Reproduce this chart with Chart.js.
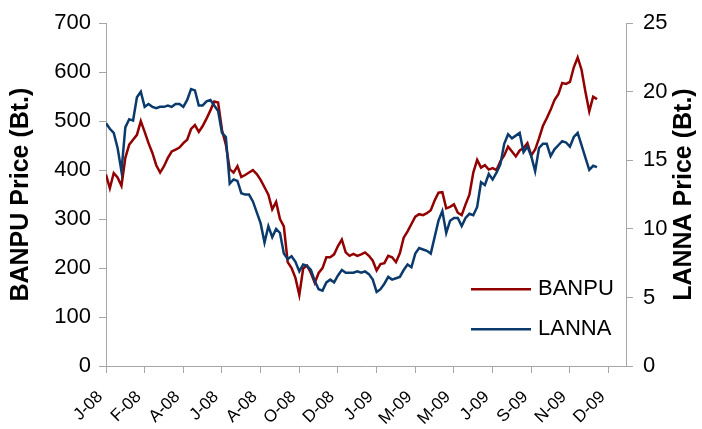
<!DOCTYPE html>
<html>
<head>
<meta charset="utf-8">
<script src="https://cdn.jsdelivr.net/npm/chart.js@4.4.0/dist/chart.umd.min.js"></script>
<style>
    html, body { margin: 0; padding: 0; background: #fff; }
    #wrap { width: 702px; height: 429px; }
</style>
</head>
<body>
<div id="wrap"><canvas id="priceChart" width="702" height="429"></canvas></div>
<script>
// ============================================================
// DATA (one point every ~4px, label every 10 points)
// ============================================================
const monthLabels = ['J-08', 'F-08', 'A-08', 'J-08', 'A-08', 'O-08', 'D-08',
                     'J-09', 'M-09', 'M-09', 'J-09', 'S-09', 'N-09', 'D-09'];

const banpu = [
    391, 363, 394, 385, 368, 425, 452, 462, 472, 500,
    478, 455, 435, 410, 395, 408, 425, 438, 442, 446,
    455, 462, 484, 492, 478, 490, 505, 522, 540, 538,
    482, 452, 402, 395, 408, 386, 390, 395, 400, 392,
    380, 365, 350, 320, 335, 300, 285, 212, 200, 180,
    145, 199, 205, 190, 170, 190, 200, 222, 222, 228,
    245, 258, 232, 225, 229, 225, 228, 232, 225, 215,
    195, 208, 210, 225, 222, 212, 230, 262, 275, 290,
    305, 310, 308, 312, 318, 338, 354, 355, 322, 325,
    330, 313, 308, 330, 350, 395, 421, 405, 410, 401,
    404, 400, 418, 430, 448, 438, 428, 440, 445, 455,
    430, 442, 465, 490, 506, 523, 543, 555, 578, 576,
    580, 610, 630, 605, 560, 520, 550, 545
];

const lanna = [
    17.7, 17.3, 17.0, 15.9, 14.2, 17.4, 18.0, 17.9, 19.6, 20.0,
    18.9, 19.1, 18.9, 18.8, 18.9, 18.9, 19.0, 18.9, 19.1, 19.1,
    18.9, 19.4, 20.2, 20.1, 19.0, 19.0, 19.3, 19.4, 19.0, 18.6,
    17.0, 16.7, 13.3, 13.6, 13.5, 12.6, 12.5, 12.5, 12.0, 11.2,
    10.4, 9.0, 10.2, 9.4, 10.0, 9.7, 8.2, 7.8, 8.0, 7.6,
    6.9, 7.4, 7.3, 7.0, 6.2, 5.6, 5.5, 6.1, 6.3, 6.1,
    6.6, 7.0, 6.8, 6.8, 6.8, 6.9, 6.8, 6.9, 6.7, 6.3,
    5.4, 5.6, 6.0, 6.5, 6.3, 6.4, 6.5, 7.0, 7.4, 7.2,
    8.2, 8.6, 8.5, 8.4, 8.2, 9.4, 10.6, 11.3, 9.7, 10.6,
    10.8, 10.8, 10.2, 10.8, 11.1, 11.0, 11.6, 13.4, 13.2, 14.0,
    13.6, 14.1, 14.7, 16.2, 16.9, 16.6, 16.8, 17.0, 15.6, 16.0,
    15.3, 14.2, 15.9, 16.2, 16.2, 15.3, 15.8, 16.1, 16.4, 16.3,
    16.0, 16.7, 17.0, 16.1, 15.2, 14.3, 14.6, 14.5
];

// ============================================================
// CHART
// ============================================================
const FONT = "'Liberation Sans', Arial, sans-serif";
const AXIS_GREY = '#a6a6a6';

// right title reads bottom-to-top like the left one, so draw it by hand
const rightTitle = {
    id: 'rightTitle',
    afterDraw(chart) {
        const s = chart.scales.y1;
        const area = chart.chartArea;
        const ctx = chart.ctx;
        ctx.save();
        ctx.translate(s.right - 18, (area.top + area.bottom) / 2);
        ctx.rotate(-Math.PI / 2);
        ctx.font = 'bold 25px ' + FONT;
        ctx.fillStyle = '#000';
        ctx.textAlign = 'center';
        ctx.textBaseline = 'middle';
        ctx.fillText('LANNA Price (Bt.)', 0, 0);
        ctx.restore();
    }
};

// legend sits inside the plot, lower right
const insideLegend = {
    id: 'insideLegend',
    afterDraw(chart) {
        const area = chart.chartArea;
        const ctx = chart.ctx;
        let y = area.top + 266;
        ctx.save();
        ctx.font = '22px ' + FONT;
        ctx.textBaseline = 'middle';
        chart.data.datasets.forEach(ds => {
            ctx.strokeStyle = ds.borderColor;
            ctx.lineWidth = 2.5;
            ctx.beginPath();
            ctx.moveTo(area.right - 155, y);
            ctx.lineTo(area.right - 95, y);
            ctx.stroke();
            ctx.fillStyle = '#000';
            ctx.fillText(ds.label, area.right - 88, y);
            y += 40;
        });
        ctx.restore();
    }
};

new Chart(document.getElementById('priceChart'), {
    type: 'line',
    data: {
        datasets: [{
            label: 'BANPU',
            data: banpu.map((v, i) => ({ x: i, y: v })),
            yAxisID: 'y',
            order: 2,
            borderColor: '#920000',
            borderWidth: 2.5,
            pointRadius: 0,
            tension: 0
        }, {
            label: 'LANNA',
            data: lanna.map((v, i) => ({ x: i, y: v })),
            yAxisID: 'y1',
            order: 1,
            borderColor: '#0b3a6c',
            borderWidth: 2.5,
            pointRadius: 0,
            tension: 0
        }]
    },
    options: {
        responsive: false,
        animation: false,
        devicePixelRatio: 1,
        layout: { padding: { top: 21, right: 0, bottom: 0, left: 0 } },
        plugins: {
            legend: { display: false },
            tooltip: { enabled: false }
        },
        scales: {
            x: {
                type: 'linear',
                min: 0,
                max: 134.5,
                grid: { drawOnChartArea: false, tickLength: 7, color: AXIS_GREY },
                border: { color: AXIS_GREY },
                ticks: {
                    stepSize: 10,
                    includeBounds: false,
                    autoSkip: false,
                    minRotation: 45,
                    maxRotation: 45,
                    padding: 14,
                    labelOffset: -6,
                    color: '#000',
                    font: { family: FONT, size: 17 },
                    callback: v => monthLabels[Math.round(v / 10)] || ''
                },
                afterFit: s => { s.height = 63; }
            },
            y: {
                position: 'left',
                min: 0,
                max: 700,
                grid: { drawOnChartArea: false, tickLength: 7, color: AXIS_GREY },
                border: { color: AXIS_GREY },
                ticks: { stepSize: 100, padding: 8, color: '#000', font: { family: FONT, size: 22 } },
                title: {
                    display: true,
                    text: 'BANPU Price (Bt.)',
                    color: '#000',
                    font: { family: FONT, size: 25, weight: 'bold' },
                    padding: { top: 6, bottom: 0 }
                },
                afterFit: s => { s.width = 106; }
            },
            y1: {
                position: 'right',
                min: 0,
                max: 25,
                grid: { drawOnChartArea: false, tickLength: 7, color: AXIS_GREY },
                border: { color: AXIS_GREY },
                ticks: { stepSize: 5, padding: 10, color: '#000', font: { family: FONT, size: 22 } },
                afterFit: s => { s.width = 76; }
            }
        }
    },
    plugins: [rightTitle, insideLegend]
});
</script>
</body>
</html>
